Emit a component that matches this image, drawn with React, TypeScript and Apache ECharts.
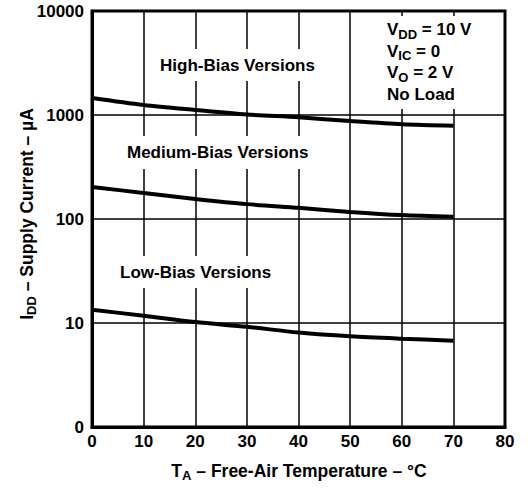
import React, { useEffect, useRef } from "react";
import * as echarts from "echarts";

const temps = [0, 10, 20, 30, 40, 50, 60, 70];
const highBias = [1456, 1248, 1117, 1010, 950, 875, 815, 789];
const mediumBias = [203, 178, 156, 139, 128, 117, 109, 105];
const lowBias = [13.4, 11.75, 10.2, 9.2, 8.1, 7.45, 7.06, 6.76];
const xTicks = [0, 10, 20, 30, 40, 50, 60, 70, 80];
const yTicks = [1, 10, 100, 1000, 10000];
const yTickLabels = ["0", "10", "100", "1000", "10000"];

const FONT = "'Liberation Sans', Arial, Helvetica, sans-serif";

export default function App() {
  const ref = useRef<HTMLDivElement>(null);
  useEffect(() => {
    if (!ref.current) return;
    const chart = echarts.init(ref.current, undefined, { renderer: "svg" });
    const mk = (vals: number[]) => temps.map((t, i) => [t, vals[i]]);
    const lineSeries = (name: string, vals: number[]) => ({
      name,
      type: "line",
      data: mk(vals),
      smooth: 0.3,
      symbol: "none",
      lineStyle: { color: "#000", width: 4 },
      z: 3,
    });
    const richTitle = {
      b: { fontSize: 17.5, fontWeight: "bold", fontFamily: FONT, color: "#000" },
      s: { fontSize: 13, fontWeight: "bold", fontFamily: FONT, padding: [9, 0, 0, 0], color: "#000" },
    };
    const labelText = (text: string, x: number, y: number) => ({
      type: "text",
      x,
      y,
      z: 60,
      style: {
        text,
        fill: "#000",
        fontSize: 17,
        fontWeight: "bold",
        fontFamily: FONT,
        align: "left",
        verticalAlign: "middle",
      },
    });
    const whiteRect = (x: number, y: number, w: number, h: number) => ({
      type: "rect",
      z: 50,
      shape: { x, y, width: w, height: h },
      style: { fill: "#fff" },
    });
    chart.setOption({
      animation: false,
      backgroundColor: "#fff",
      grid: {
        left: 92,
        right: 23,
        top: 11,
        bottom: 61,
        show: true,
        borderColor: "#000",
        borderWidth: 3,
        backgroundColor: "transparent",
      },
      xAxis: {
        type: "value",
        min: xTicks[0],
        max: xTicks[xTicks.length - 1],
        interval: 10,
        axisLine: { show: true, lineStyle: { color: "#000", width: 3 } },
        axisTick: { show: false },
        axisLabel: {
          color: "#000",
          fontSize: 17,
          fontWeight: "bold",
          fontFamily: FONT,
          margin: 6,
        },
        splitLine: { show: true, lineStyle: { color: "#000", width: 1.5 } },
      },
      yAxis: {
        type: "log",
        logBase: 10,
        min: yTicks[0],
        max: yTicks[yTicks.length - 1],
        axisLine: { show: true, lineStyle: { color: "#000", width: 3 } },
        axisTick: { show: false },
        minorSplitLine: { show: false },
        axisLabel: {
          color: "#000",
          fontSize: 17,
          fontWeight: "bold",
          fontFamily: FONT,
          margin: 8,
          formatter: (v: number) => {
            const i = yTicks.indexOf(v);
            return i >= 0 ? yTickLabels[i] : String(v);
          },
        },
        splitLine: { show: true, lineStyle: { color: "#000", width: 1.5 } },
      },
      series: [
        lineSeries("High-Bias Versions", highBias),
        lineSeries("Medium-Bias Versions", mediumBias),
        lineSeries("Low-Bias Versions", lowBias),
      ],
      graphic: [
        whiteRect(152, 49, 178, 32),
        labelText("High-Bias Versions", 160, 65),
        whiteRect(120, 136, 202, 33),
        labelText("Medium-Bias Versions", 127, 152),
        whiteRect(113, 256, 170, 32),
        labelText("Low-Bias Versions", 120, 272),
        whiteRect(378, 16, 114, 93),
        {
          type: "text",
          x: 387,
          y: 19,
          z: 60,
          style: {
            text: "{b|V}{s|DD}{b| = 10 V}\n{b|V}{s|IC}{b| = 0}\n{b|V}{s|O}{b| = 2 V}\n{b|No Load}",
            rich: {
              b: { fontSize: 17, fontWeight: "bold", fontFamily: FONT, color: "#000", lineHeight: 21.5 },
              s: { fontSize: 13, fontWeight: "bold", fontFamily: FONT, color: "#000", lineHeight: 21.5, padding: [9, 0, 0, 0] },
            },
            fill: "#000",
            align: "left",
            verticalAlign: "top",
          },
        },
        {
          type: "text",
          x: 27,
          y: 214,
          rotation: Math.PI / 2,
          z: 60,
          style: {
            text: "{b|I}{s|DD}{b| – Supply Current – µA}",
            rich: richTitle,
            fill: "#000",
            align: "center",
            verticalAlign: "middle",
          },
        },
        {
          type: "text",
          x: 299,
          y: 471,
          z: 60,
          style: {
            text: "{b|T}{s|A}{b| – Free-Air Temperature – °C}",
            rich: richTitle,
            fill: "#000",
            align: "center",
            verticalAlign: "middle",
          },
        },
      ],
    });
    return () => chart.dispose();
  }, []);
  return (
    <div
      ref={ref}
      style={{ position: "absolute", left: 0, top: 0, width: 528, height: 488, background: "#fff" }}
    />
  );
}
